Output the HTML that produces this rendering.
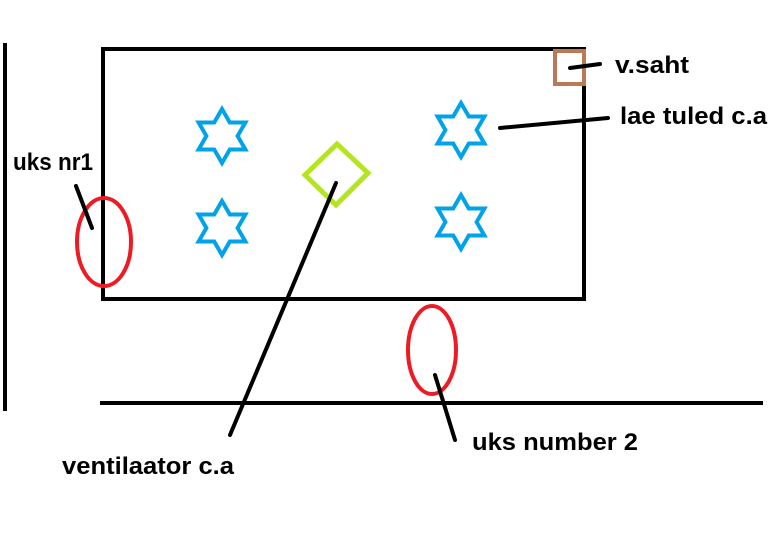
<!DOCTYPE html>
<html><head><style>body{margin:0;background:#fff}svg{display:block}text{font-family:"Liberation Sans",Arial,sans-serif;font-weight:bold;font-size:24px;fill:#000}</style></head>
<body>
<svg width="770" height="559" viewBox="0 0 770 559">
<defs>
<polygon id="s" points="0,-27 7.8,-13.5 23.4,-13.5 15.6,0 23.4,13.5 7.8,13.5 0,27 -7.8,13.5 -23.4,13.5 -15.6,0 -23.4,-13.5 -7.8,-13.5" fill="none" stroke="#00a2e8" stroke-width="4" stroke-linejoin="miter"/>
</defs>
<line x1="5" y1="43" x2="5" y2="411" stroke="#000" stroke-width="4"/>
<rect x="103" y="49" width="481" height="250" fill="none" stroke="#000" stroke-width="4"/>
<rect x="555" y="51" width="29" height="33" fill="none" stroke="#b97a57" stroke-width="4"/>
<line x1="100" y1="403" x2="763" y2="403" stroke="#000" stroke-width="4"/>
<use href="#s" x="222" y="136"/>
<use href="#s" x="222" y="228"/>
<use href="#s" x="461" y="130"/>
<use href="#s" x="461" y="222"/>
<polygon points="337,144 368,173 336,205 305,175" fill="none" stroke="#b5e61d" stroke-width="5"/>
<ellipse cx="104" cy="242" rx="27" ry="44" fill="none" stroke="#ed1c24" stroke-width="4"/>
<ellipse cx="432" cy="350" rx="24" ry="44" fill="none" stroke="#ed1c24" stroke-width="4"/>
<g stroke="#000" stroke-width="4" stroke-linecap="round">
<line x1="570" y1="68" x2="600" y2="64"/>
<line x1="500" y1="128" x2="608" y2="118"/>
<line x1="76" y1="186" x2="92" y2="228"/>
<line x1="336" y1="183" x2="230" y2="435"/>
<line x1="435" y1="375" x2="455" y2="440"/>
</g>
<text x="615" y="73" textLength="74" lengthAdjust="spacingAndGlyphs">v.saht</text>
<text x="620" y="124" textLength="147" lengthAdjust="spacingAndGlyphs">lae tuled c.a</text>
<text x="13" y="170" textLength="80" lengthAdjust="spacingAndGlyphs">uks nr1</text>
<text x="62" y="474" textLength="172" lengthAdjust="spacingAndGlyphs">ventilaator c.a</text>
<text x="472" y="450" textLength="166" lengthAdjust="spacingAndGlyphs">uks number 2</text>
</svg>
</body></html>
